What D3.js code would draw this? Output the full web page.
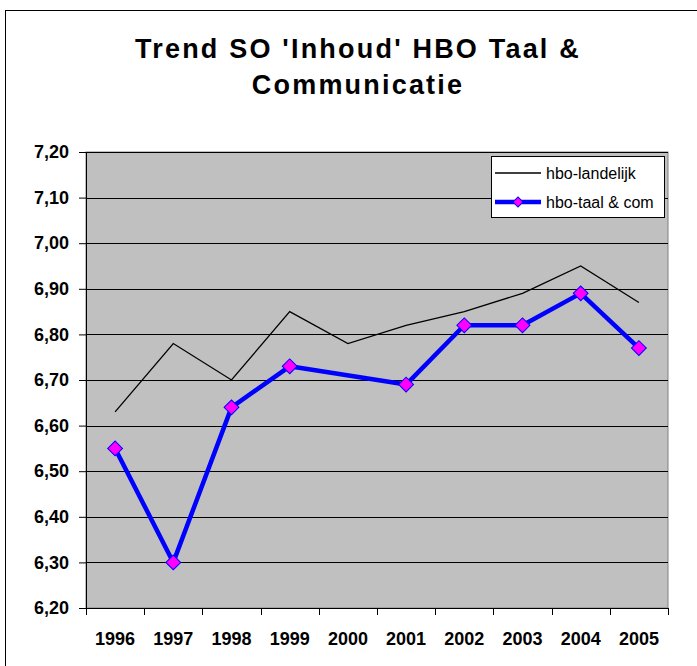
<!DOCTYPE html>
<meta charset="utf-8">
<style>
 body { margin: 0; background: #fff; }
 svg { display: block; font-family: Arial, "Liberation Sans", sans-serif; }
 .tick text { font-weight: bold; font-size: 18px; fill: #000; }
</style>
<body>
<script src="https://cdn.jsdelivr.net/npm/d3@7"></script>
<script>

 // data
 var years = ["1996", "1997", "1998", "1999", "2000", "2001", "2002", "2003", "2004", "2005"];
 var landelijk = [6.63, 6.78, 6.70, 6.85, 6.78, 6.82, 6.85, 6.89, 6.95, 6.87];
 var taalCom = [6.55, 6.30, 6.64, 6.73, null, 6.69, 6.82, 6.82, 6.89, 6.77];
 var yTicks = [6.2, 6.3, 6.4, 6.5, 6.6, 6.7, 6.8, 6.9, 7.0, 7.1, 7.2];
 var seriesNames = ["hbo-landelijk", "hbo-taal & com"];

 var width = 697, height = 666;
 var plot = {left: 86, top: 152, right: 668, bottom: 608};

 var svg = d3.select("body").append("svg")
             .attr("width", width)
             .attr("height", height);

 // outer chart frame
 svg.append("rect")
    .attr("x", 5.5).attr("y", 10.5)
    .attr("width", 720).attr("height", 700)
    .attr("fill", "#fff").attr("stroke", "#000");

 // title
 var title = svg.append("text")
                .attr("text-anchor", "middle")
                .attr("font-size", 27)
                .attr("font-weight", "bold")
                .attr("letter-spacing", 2.2);
 title.append("tspan").attr("x", 358).attr("y", 58).text("Trend SO 'Inhoud' HBO Taal &");
 title.append("tspan").attr("x", 358).attr("y", 94).text("Communicatie");

 var x = d3.scaleBand()
           .domain(years)
           .range([plot.left, plot.right]);

 var y = d3.scaleLinear()
           .domain([6.2, 7.2])
           .range([plot.bottom, plot.top]);

 // plot area
 svg.append("rect")
    .attr("x", plot.left).attr("y", plot.top)
    .attr("width", plot.right - plot.left).attr("height", plot.bottom - plot.top)
    .attr("fill", "#c0c0c0").attr("stroke", "#808080");

 // gridlines
 svg.append("g")
    .selectAll("line")
    .data(yTicks.slice(1))
    .join("line")
    .attr("x1", plot.left).attr("x2", plot.right)
    .attr("y1", function(d) { return Math.round(y(d)) + 0.5; })
    .attr("y2", function(d) { return Math.round(y(d)) + 0.5; })
    .attr("stroke", "#000");

 // axes
 var gY = svg.append("g")
             .attr("transform", "translate(" + plot.left + ",0)")
             .call(d3.axisLeft(y).tickValues(yTicks).tickSize(7).tickPadding(10)
                     .tickFormat(function(d) { return d3.format(".2f")(d).replace(".", ","); }));

 var gX = svg.append("g")
             .attr("transform", "translate(0," + plot.bottom + ")")
             .call(d3.axisBottom(x).tickSize(0).tickPadding(24));

 // category boundary ticks on x axis
 gX.selectAll(".bound")
   .data(years.concat(["end"]))
   .join("line")
   .attr("class", "bound")
   .attr("x1", function(d, i) { return Math.round(plot.left + i * x.bandwidth()) + 0.5; })
   .attr("x2", function(d, i) { return Math.round(plot.left + i * x.bandwidth()) + 0.5; })
   .attr("y1", 0).attr("y2", 7)
   .attr("stroke", "#000");

 svg.selectAll(".domain").attr("stroke", "#000");
 gX.select(".domain").attr("d", "M" + plot.left + ",0.5H" + plot.right);

 var cx = function(i) { return x(years[i]) + x.bandwidth() / 2; };

 // hbo-landelijk line
 svg.append("path")
    .datum(landelijk)
    .attr("fill", "none")
    .attr("stroke", "#000")
    .attr("stroke-width", 1.3)
    .attr("d", d3.line()
                 .x(function(d, i) { return cx(i); })
                 .y(function(d) { return y(d); }));

 // hbo-taal & com line, gap bridged
 var taalPts = taalCom.map(function(v, i) { return {i: i, v: v}; })
                      .filter(function(d) { return d.v !== null; });

 svg.append("path")
    .datum(taalPts)
    .attr("fill", "none")
    .attr("stroke", "#0000ff")
    .attr("stroke-width", 4.5)
    .attr("stroke-linejoin", "round")
    .attr("d", d3.line()
                 .x(function(d) { return cx(d.i); })
                 .y(function(d) { return y(d.v); }));

 var diamond = d3.symbol().type(d3.symbolSquare).size(110);

 svg.append("g")
    .selectAll("path")
    .data(taalPts)
    .join("path")
    .attr("d", diamond)
    .attr("transform", function(d) { return "translate(" + cx(d.i) + "," + y(d.v) + ") rotate(45)"; })
    .attr("fill", "#ff00ff")
    .attr("stroke", "#0000ff")
    .attr("stroke-width", 1);

 // legend
 var legend = svg.append("g");
 legend.append("rect")
       .attr("x", 491.5).attr("y", 156.5)
       .attr("width", 173).attr("height", 61)
       .attr("fill", "#fff").attr("stroke", "#000");

 var rows = legend.selectAll("g")
                  .data(seriesNames)
                  .join("g")
                  .attr("transform", function(d, i) { return "translate(0," + (173 + i * 29) + ")"; });

 rows.append("line")
     .attr("x1", 495).attr("x2", 541)
     .attr("stroke", function(d, i) { return i ? "#0000ff" : "#000"; })
     .attr("stroke-width", function(d, i) { return i ? 4.5 : 1.3; });

 rows.filter(function(d, i) { return i === 1; })
     .append("path")
     .attr("d", d3.symbol().type(d3.symbolSquare).size(50))
     .attr("transform", "translate(518,0) rotate(45)")
     .attr("fill", "#ff00ff")
     .attr("stroke", "#0000ff");

 rows.append("text")
     .attr("x", 546)
     .attr("dy", "0.35em")
     .attr("font-size", 16)
     .text(function(d) { return d; });

</script>
